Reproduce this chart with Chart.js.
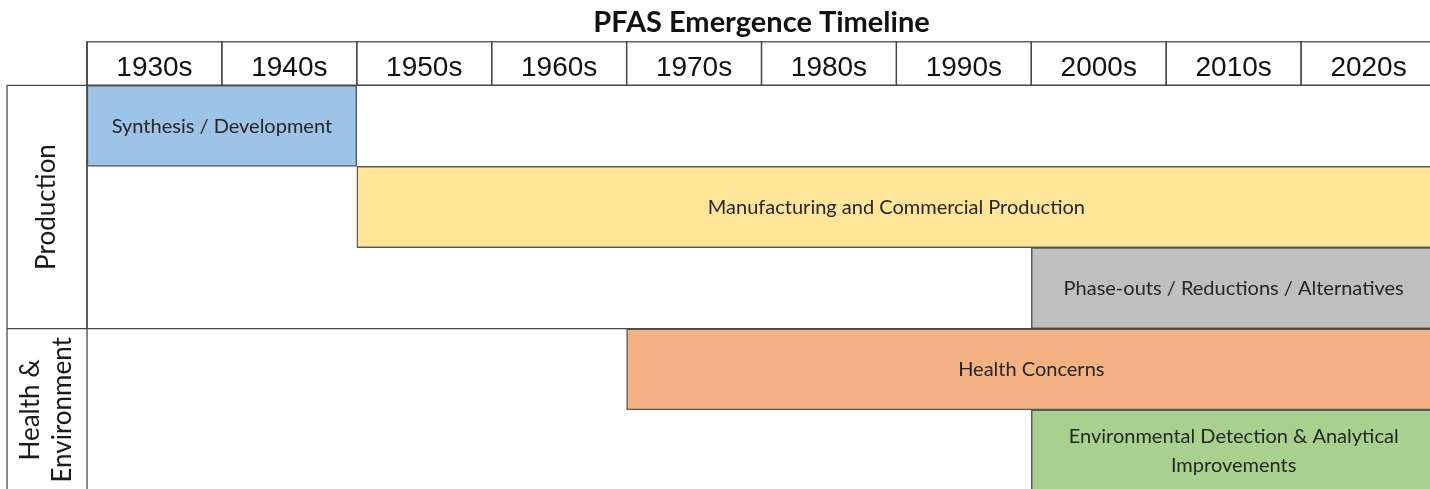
<!DOCTYPE html>
<html>
<head>
<meta charset="utf-8">
<script src="https://cdn.jsdelivr.net/npm/chart.js@4/dist/chart.umd.min.js"></script>
<style>
  html, body { margin: 0; padding: 0; background: #ffffff; overflow: hidden; }
  #wrap { width: 1430px; height: 489px; overflow: hidden; position: relative; }
  canvas { display: block; }
</style>
</head>
<body>
<div id="wrap"><canvas id="c" width="1436" height="492"></canvas></div>
<script>
// ---- data ----
const chartTitle = 'PFAS Emergence Timeline';
const decadeLabels = ['1930s', '1940s', '1950s', '1960s', '1970s', '1980s', '1990s', '2000s', '2010s', '2020s'];
const decadeStarts = [1930, 1940, 1950, 1960, 1970, 1980, 1990, 2000, 2010, 2020];
const phases = [
  'Synthesis / Development',
  'Manufacturing and Commercial Production',
  'Phase-outs / Reductions / Alternatives',
  'Health Concerns',
  ['Environmental Detection & Analytical', 'Improvements']
];
const startYears = [1930, 1950, 2000, 1970, 2000];
const endYears   = [1950, 2030, 2030, 2030, 2030];
const groupNames = [['Production'], ['Health &', 'Environment']];
const groupSizes = [3, 2];

// ---- styles ----
const barColors = ['#9dc3e6', '#ffe699', '#bfbfbf', '#f4b183', '#a9d18e'];
const lineColor = '#474747';
const labelFont = 'Lato, "Open Sans", sans-serif';

const timelinePlugin = {
  id: 'timeline',
  afterDatasetsDraw(chart) {
    const { ctx, chartArea: a, scales: { x } } = chart;
    const meta = chart.getDatasetMeta(0);
    ctx.save();

    // bar labels
    ctx.fillStyle = '#262626';
    ctx.font = '20px ' + labelFont;
    ctx.textAlign = 'center';
    ctx.textBaseline = 'alphabetic';
    meta.data.forEach((bar, i) => {
      const p = bar.getProps(['x', 'y', 'base'], true);
      const cx = (p.x + p.base) / 2;
      const lines = [].concat(phases[i]);
      const n = lines.length;
      lines.forEach((t, k) => {
        ctx.fillText(t, cx, p.y + 7 + (k - (n - 1) / 2) * 29);
      });
    });

    // header row
    const hTop = a.top - 43.5;
    ctx.strokeStyle = lineColor;
    ctx.lineWidth = 1.3;
    ctx.fillStyle = '#111111';
    ctx.font = '28px "Liberation Sans", Arial, sans-serif';
    decadeStarts.forEach((d, i) => {
      const x0 = x.getPixelForValue(d);
      const x1 = x.getPixelForValue(d + 10);
      ctx.strokeRect(x0, hTop, x1 - x0, a.top - hTop);
      ctx.fillText(decadeLabels[i], (x0 + x1) / 2, a.top - 9.5);
    });

    // left group column
    const colLeft = 7;
    const bars = meta.data.map(b => b.getProps(['y', 'height'], true));
    let idx = 0;
    ctx.font = '26px ' + labelFont;
    ctx.fillStyle = '#1a1a1a';
    groupSizes.forEach((size, g) => {
      const first = bars[idx], last = bars[idx + size - 1];
      const y0 = first.y - first.height / 2;
      const y1 = last.y + last.height / 2;
      ctx.beginPath();
      ctx.moveTo(colLeft, y0); ctx.lineTo(a.right, y0);
      ctx.moveTo(colLeft, y0); ctx.lineTo(colLeft, y1);
      ctx.moveTo(a.left, hTop); ctx.lineTo(a.left, y1);
      ctx.stroke();
      const lines = groupNames[g];
      const cx = (colLeft + a.left) / 2;
      const cy = (y0 + y1) / 2;
      ctx.save();
      ctx.translate(cx, cy);
      ctx.rotate(-Math.PI / 2);
      lines.forEach((t, k) => {
        ctx.fillText(t, 0, 8 + (k - (lines.length - 1) / 2) * 32);
      });
      ctx.restore();
      idx += size;
    });

    ctx.restore();
  }
};

new Chart(document.getElementById('c'), {
  type: 'bar',
  data: {
    labels: phases,
    datasets: [{
      data: startYears.map((s, i) => [s, endYears[i]]),
      backgroundColor: barColors,
      borderColor: '#5a5a5a',
      borderWidth: 1.5,
      borderSkipped: false,
      barPercentage: 1,
      categoryPercentage: 1
    }]
  },
  options: {
    indexAxis: 'y',
    responsive: false,
    animation: false,
    devicePixelRatio: 1,
    layout: { padding: { left: 87, right: 0, top: 0, bottom: 1 } },
    scales: {
      x: { type: 'linear', min: 1930, max: 2030, display: false },
      y: { type: 'category', display: false }
    },
    plugins: {
      legend: { display: false },
      tooltip: { enabled: false },
      title: {
        display: true,
        text: chartTitle,
        color: '#111111',
        font: { family: labelFont, size: 29, weight: 'bold' },
        padding: { top: 5, bottom: 45.5 }
      }
    }
  },
  plugins: [timelinePlugin]
});
</script>
</body>
</html>
